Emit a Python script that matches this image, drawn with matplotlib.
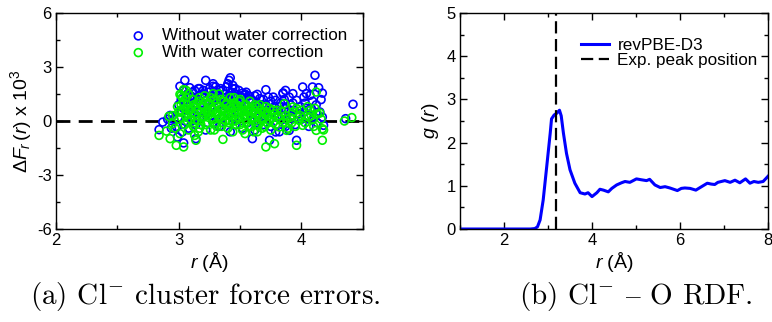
import numpy as np
import matplotlib
matplotlib.use("Agg")
import matplotlib.pyplot as plt
from matplotlib.ticker import MultipleLocator

plt.rcParams['font.family'] = ['Liberation Sans', 'DejaVu Sans']
plt.rcParams['mathtext.fontset'] = 'custom'
plt.rcParams['mathtext.rm'] = 'Liberation Sans'
plt.rcParams['mathtext.it'] = 'Liberation Sans:italic'
plt.rcParams['axes.unicode_minus'] = False

# (a) kraftfel, utan vattenkorrektion (blå)
r_blue = [2.84, 2.87, 2.93, 3.01, 3.05, 3.04, 3.09, 3.09, 3.22, 3.28, 3.28, 3.17, 3.33,
          3.41, 3.42, 3.40, 3.44, 3.46, 3.52, 3.53, 3.58, 3.64, 3.66, 3.71, 3.73, 3.77,
          3.79, 3.85, 3.87, 3.85, 3.90, 3.93, 3.96, 4.01, 4.02, 4.04, 4.07, 4.09, 4.11,
          4.14, 4.16, 4.17, 4.17, 4.18, 4.36, 4.42, 3.96, 3.74, 3.04, 2.99, 3.14, 3.60,
          3.79, 3.90, 3.44, 3.51,
          3.00, 3.02, 3.05, 3.07, 3.10, 3.12, 3.13, 3.15, 3.16, 3.18, 3.19, 3.20, 3.21,
          3.23, 3.24, 3.25, 3.26, 3.27, 3.29, 3.30, 3.31, 3.32, 3.34, 3.35, 3.36, 3.37,
          3.38, 3.39, 3.40, 3.41, 3.43, 3.44, 3.45, 3.47, 3.48, 3.49, 3.50, 3.51, 3.53,
          3.54, 3.55, 3.57, 3.58, 3.60, 3.61, 3.63, 3.64, 3.66, 3.67, 3.68, 3.70, 3.72,
          3.74, 3.76, 3.78, 3.80, 3.81, 3.83, 3.84, 3.86, 3.88, 3.89, 3.91, 3.92, 3.94,
          3.95, 3.97, 3.99, 4.00, 4.02, 4.03, 4.05, 4.06, 4.08, 4.10, 4.12, 4.13, 4.15,
          3.08, 3.14, 3.22, 3.28, 3.33, 3.42, 3.46, 3.52, 3.56, 3.62, 3.69, 3.75, 3.82,
          3.87, 2.96, 2.98, 3.03, 3.06, 3.11, 3.17,
          3.02, 3.04, 3.07, 3.09, 3.11, 3.13, 3.16, 3.18, 3.20, 3.22, 3.25, 3.27, 3.30,
          3.32, 3.34, 3.37, 3.39, 3.42, 3.44, 3.46, 3.49, 3.52, 3.55, 3.57, 3.60, 3.62,
          3.65, 3.69, 3.71, 3.75, 3.78, 3.82, 3.86, 3.90, 3.93, 3.98, 4.04, 4.09, 4.12,
          3.15, 3.26, 3.36, 3.45, 3.55, 3.65, 3.05, 2.94, 2.91]
dF_blue = [-0.48, -0.06, 0.31, 1.93, 2.26, 1.70, 1.85, 1.33, 2.26, 2.07, 1.93, 1.80, 1.70,
           2.26, 2.40, 2.07, 1.98, 1.80, 1.55, 1.43, 1.15, 1.48, 1.24, 1.74, 1.33, 1.33,
           1.15, 1.52, 1.70, 1.56, 1.33, 1.52, 1.15, 1.89, 1.33, 1.52, 1.43, 1.89, 2.54,
           1.85, 1.19, 1.55, 0.22, -0.24, 0.13, 0.93, -1.07, -1.07, -1.22, -0.89, -0.98, -0.98,
           -0.61, -0.52, 0.78, 1.06,
           0.9, 0.5, 1.1, 0.2, 1.4, 0.8, 1.7, 0.3, 1.2, 0.6, 1.5, 0.9, 1.3,
           0.4, 1.6, 1.0, 0.7, 1.4, 1.1, 0.5, 1.6, 0.9, 1.3, 0.6, 1.7, 1.0,
           1.5, 0.8, 1.2, 0.4, 1.6, 1.0, 0.7, 1.3, 0.5, 1.1, 1.4, 0.8, 0.3,
           1.5, 0.9, 0.6, 1.2, 0.4, 0.8, 1.0, 0.2, 0.7, 0.5, 0.9, 0.3, 0.6,
           0.1, 0.5, 0.8, 0.2, 0.6, 1.0, 0.3, 0.7, 0.1, 0.5, 0.9, 0.3, 0.6,
           -0.2, 0.4, 0.8, 0.1, 0.5, 1.0, 0.3, -0.3, 0.7, 0.2, 0.9, -0.1, 0.5,
           -0.4, -0.2, -0.5, -0.1, -0.3, -0.6, -0.2, -0.4, -0.1, -0.5, -0.2, -0.3, -0.6,
           -0.3, 0.1, -0.3, -0.6, 0.6, 0.0, 0.2,
           1.2, 0.7, 1.5, 0.9, 1.6, 1.2, 1.8, 1.0, 1.7, 1.1, 1.8, 1.2, 1.9,
           1.4, 1.8, 1.3, 1.9, 1.4, 1.8, 1.5, 1.7, 1.3, 1.6, 1.4, 1.1, 1.4,
           0.9, 1.2, 0.9, 1.1, 0.4, 0.8, 1.2, 0.6, 1.0, 0.4, 0.7, 1.1, 0.4,
           0.5, 0.3, 0.2, 0.1, 0.3, 0.0, 0.0, -0.4, 0.1]

# (a) kraftfel, med vattenkorrektion (grön)
r_green = [2.84, 2.93, 2.98, 3.04, 3.02, 3.04, 3.06, 3.01, 3.14, 3.13, 3.28, 3.36, 3.71,
           3.78, 3.96, 4.17, 4.12, 4.15, 4.12, 4.17, 4.35, 4.41, 3.86, 3.96, 3.93, 4.07,
           3.98, 4.01, 4.09, 3.82, 3.88, 3.77, 2.90, 2.95, 2.92, 3.01,
           2.95, 2.97, 2.99, 3.00, 3.01, 3.03, 3.04, 3.05, 3.06, 3.07, 3.08, 3.09, 3.10,
           3.11, 3.12, 3.13, 3.14, 3.15, 3.16, 3.17, 3.18, 3.19, 3.20, 3.21, 3.22, 3.23,
           3.24, 3.25, 3.26, 3.27, 3.28, 3.29, 3.30, 3.31, 3.32, 3.33, 3.34, 3.35, 3.36,
           3.37, 3.38, 3.39, 3.40, 3.41, 3.42, 3.43, 3.44, 3.45, 3.46, 3.47, 3.48, 3.49,
           3.50, 3.51, 3.52, 3.53, 3.54, 3.55, 3.56, 3.57, 3.58, 3.59, 3.60, 3.61, 3.62,
           3.63, 3.64, 3.65, 3.66, 3.67, 3.68, 3.69, 3.70, 3.72, 3.73, 3.74, 3.75, 3.76,
           3.78, 3.79, 3.80, 3.83, 3.85, 3.87, 3.89, 3.91, 3.93, 3.95, 3.97, 4.00, 4.03,
           4.05, 4.08, 4.10, 4.13, 4.16, 4.18, 3.02, 3.06, 3.10, 3.15, 3.20, 3.24, 3.28,
           3.33, 3.38, 3.43, 3.47, 3.52, 3.57, 3.62, 3.67, 3.71,
           3.00, 3.02, 3.03, 3.05, 3.07, 3.08, 3.10, 3.12, 3.13, 3.15, 3.17, 3.18, 3.19,
           3.21, 3.22, 3.23, 3.25, 3.26, 3.27, 3.29, 3.30, 3.31, 3.32, 3.34, 3.35, 3.36,
           3.37, 3.39, 3.40, 3.41, 3.42, 3.44, 3.45, 3.46, 3.48, 3.49, 3.50, 3.51, 3.53,
           3.54, 3.55, 3.56, 3.58, 3.59, 3.60, 3.62, 3.63, 3.65, 3.66, 3.68, 3.70, 3.72,
           3.74, 3.77, 3.81, 3.84, 3.88, 3.92, 3.99, 4.06, 4.11, 3.16, 3.29, 3.44, 3.54,
           3.64]
dF_green = [-0.80, -0.98, -1.35, -1.44, 1.43, 1.74, 1.70, 1.48, -1.07, -0.80, 1.52, -1.02, -1.44,
            -1.26, -1.35, -1.07, 1.61, 0.44, -0.52, -0.43, 0.00, 0.19, 0.96, 0.69, 0.78, 0.59,
            0.04, -0.24, 0.07, -0.33, -0.52, -0.06, -0.56, -0.15, 0.26, 0.59,
            0.3, -0.4, 0.8, 0.1, -0.7, 0.5, 1.0, -0.2, 0.3, 0.9, -0.5, 0.6, 0.1,
            1.2, -0.3, 0.4, 0.8, 0.0, 1.1, -0.4, 0.5, 0.2, 0.9, 1.4, -0.2, 0.6,
            0.3, 1.0, -0.5, 0.7, 0.1, 1.2, 0.4, -0.3, 0.8, 1.5, 0.2, 0.6, -0.1,
            1.1, 0.5, 0.9, -0.4, 0.3, 1.3, 0.7, 0.0, 1.0, 0.4, -0.2, 0.8, 0.2,
            1.2, 0.5, -0.5, 0.6, 0.1, 0.9, 0.3, -0.3, 0.7, 0.2, 0.5, -0.6, 0.0,
            0.4, 0.8, -0.2, 0.3, 0.6, -0.4, 0.1, 0.5, -0.1, 0.3, 0.7, -0.5, 0.2,
            0.4, -0.2, 0.6, 0.1, -0.1, 0.3, -0.4, 0.2, 0.5, -0.3, 0.2, 0.6, -0.1,
            0.8, 0.3, -0.3, 0.4, 0.1, -0.5, 0.9, 1.3, 0.7, 1.0, 0.3, 0.9, 0.6,
            0.3, 0.0, 0.5, 0.9, 0.2, 0.6, 0.9, 0.1, 0.8,
            0.5, 0.2, 1.3, 0.7, 0.0, 1.5, 0.4, 0.9, -0.1, 0.6, 1.3, -0.2, 0.8,
            0.4, 1.1, -0.1, 0.5, 1.3, 0.2, 0.8, -0.2, 1.0, 0.4, 1.2, -0.3, 0.7,
            0.3, 1.0, 0.5, -0.1, 0.8, 0.3, 1.3, 0.0, 0.6, 1.1, -0.2, 0.8, 0.3,
            0.9, -0.1, 0.5, 1.1, -0.3, 0.2, 0.6, -0.2, 0.4, 0.9, 0.2, -0.3, 0.5,
            0.0, 0.6, 0.3, 0.5, 0.1, -0.1, 0.3, 0.2, 0.7, -0.6, -0.5, -0.6, -0.7,
            -0.6]

# (b) Cl- - O RDF, revPBE-D3
r_rdf = [1.0, 2.0, 2.60, 2.70, 2.76, 2.82, 2.89, 2.97, 3.05, 3.08, 3.14, 3.20, 3.26, 3.30,
         3.35, 3.42, 3.50, 3.61, 3.73, 3.84, 3.91, 4.00, 4.11, 4.18, 4.26, 4.37, 4.45,
         4.56, 4.67, 4.75, 4.86, 5.01, 5.12, 5.24, 5.31, 5.43, 5.55, 5.66, 5.77, 5.94,
         6.03, 6.11, 6.23, 6.36, 6.49, 6.62, 6.71, 6.79, 6.86, 7.02, 7.14, 7.25, 7.36,
         7.49, 7.59, 7.68, 7.78, 7.89, 8.0]
g_rdf = [0.0, 0.0, 0.0, 0.01, 0.05, 0.21, 0.67, 1.44, 2.22, 2.55, 2.64, 2.68, 2.75, 2.62,
         2.22, 1.75, 1.37, 1.06, 0.84, 0.81, 0.84, 0.75, 0.84, 0.92, 0.90, 0.86, 0.94,
         1.02, 1.07, 1.10, 1.08, 1.16, 1.14, 1.12, 1.15, 1.02, 0.96, 0.98, 0.95, 0.89,
         0.94, 0.95, 0.94, 0.90, 0.98, 1.06, 1.04, 1.03, 1.08, 1.12, 1.08, 1.13, 1.07,
         1.16, 1.06, 1.10, 1.08, 1.10, 1.22]
r_exp_peak = 3.18

fig = plt.figure(figsize=(7.72, 3.22), dpi=100)
ax1 = fig.add_axes([0.0725, 0.2888, 0.3975, 0.6708])
ax2 = fig.add_axes([0.5959, 0.2888, 0.3989, 0.6708])

ax1.axhline(0, color='black', lw=2.0, ls=(0, (5, 3)), zorder=1)
ax1.scatter(r_blue, dF_blue, s=32, facecolors='none', edgecolors='#0000ff',
            linewidths=1.2, label='Without water correction', zorder=2)
ax1.scatter(r_green, dF_green, s=32, facecolors='none', edgecolors='#00f000',
            linewidths=1.2, label='With water correction', zorder=3)
ax1.set_xlim(2, 4.5)
ax1.set_ylim(-6, 6)
ax1.xaxis.set_major_locator(MultipleLocator(1))
ax1.xaxis.set_minor_locator(MultipleLocator(0.5))
ax1.yaxis.set_major_locator(MultipleLocator(3))
ax1.yaxis.set_minor_locator(MultipleLocator(1.5))
ax1.set_xlabel(r'$r$ (Å)', fontsize=14, labelpad=1)
ax1.set_ylabel(r'$\Delta F_r\,(r)$ x 10$^3$', fontsize=14, labelpad=2)
ax1.legend(loc='upper right', frameon=False, fontsize=12.3, handletextpad=0.9,
           borderaxespad=0.6, labelspacing=0.1, borderpad=0.3, scatterpoints=1,
           handlelength=1.0)

ax2.plot(r_rdf, g_rdf, color='#0000ff', lw=2.2, label='revPBE-D3')
ax2.axvline(r_exp_peak, color='black', lw=1.6, ls=(0, (5.5, 2.5)),
            label='Exp. peak position')
ax2.set_xlim(1, 8)
ax2.set_ylim(0, 5)
ax2.xaxis.set_major_locator(MultipleLocator(2))
ax2.xaxis.set_minor_locator(MultipleLocator(1))
ax2.yaxis.set_major_locator(MultipleLocator(1))
ax2.yaxis.set_minor_locator(MultipleLocator(0.5))
ax2.set_xlabel(r'$r$ (Å)', fontsize=14, labelpad=1)
ax2.set_ylabel(r'$g\ (r)$', fontsize=14, labelpad=4)
ax2.legend(loc='upper right', bbox_to_anchor=(1.0, 0.93), frameon=False, fontsize=12.3,
           handlelength=1.65, handletextpad=0.47, labelspacing=0.0, borderaxespad=0.2)

for ax in (ax1, ax2):
    ax.tick_params(which='both', direction='in', top=True, right=True,
                   labelsize=12, width=1.0, pad=3)
    ax.tick_params(which='major', length=5)
    ax.tick_params(which='minor', length=3)
    for sp in ax.spines.values():
        sp.set_linewidth(1.0)

# bildtexter i Computer Modern
fig.text(0.266, 0.078, r'(a) Cl$^{-}$ cluster force errors.',
         family=['cmr10', 'DejaVu Serif'], math_fontfamily='cm',
         fontsize=21, ha='center', va='center')
fig.text(0.824, 0.078, r'(b) Cl$^{-}$ $\mathrm{–}$ O RDF.',
         family=['cmr10', 'DejaVu Serif'], math_fontfamily='cm',
         fontsize=21, ha='center', va='center')

fig.savefig('out.png', dpi=100)
